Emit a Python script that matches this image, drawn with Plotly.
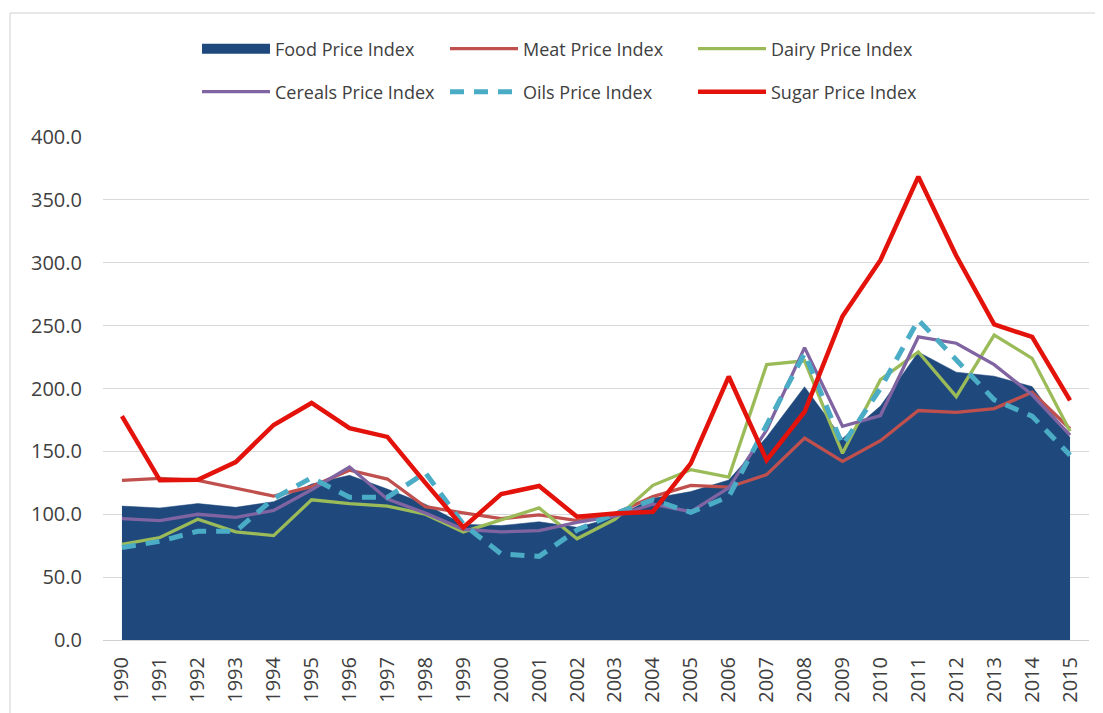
import plotly.graph_objects as go

years = [str(y) for y in range(1990, 2016)]

food = [106.5, 105.0, 108.5, 105.5, 110.0, 124.0, 131.0, 120.0, 108.0, 92.0, 91.0, 94.0, 89.6, 97.7, 112.7,
        118.0, 127.2, 161.4, 201.4, 160.3, 186.0, 229.0, 213.0, 209.8, 201.5, 161.0]
meat = [127.0, 128.5, 127.0, 120.5, 114.5, 122.0, 135.0, 128.0, 106.0, 101.0, 96.5, 99.5, 95.0, 100.5, 114.0,
        123.0, 121.5, 131.5, 160.5, 142.0, 158.5, 182.5, 181.0, 184.0, 197.0, 168.0]
dairy = [76.0, 81.5, 96.0, 86.0, 83.0, 111.5, 108.5, 106.5, 100.0, 86.0, 95.5, 105.0, 80.5, 96.0, 123.0,
         135.5, 129.5, 219.0, 222.0, 148.5, 207.0, 229.0, 193.5, 242.5, 224.0, 166.0]
cereals = [96.5, 95.0, 100.0, 97.5, 103.0, 119.5, 137.5, 112.0, 101.0, 88.0, 86.0, 87.0, 93.5, 98.5, 108.0,
           102.0, 121.0, 167.0, 232.5, 170.0, 178.5, 241.0, 236.0, 219.0, 195.0, 163.0]
oils = [73.5, 78.5, 86.5, 86.5, 112.5, 129.0, 113.5, 113.5, 133.0, 92.0, 68.5, 66.5, 87.5, 100.5, 111.5,
        101.5, 114.0, 172.0, 228.0, 155.0, 200.0, 254.5, 222.5, 191.0, 178.0, 147.0]
sugar = [178.0, 127.0, 127.5, 141.5, 171.0, 188.5, 168.5, 161.5, 125.0, 89.5, 116.0, 122.5, 98.0, 100.5, 102.0,
         140.5, 209.5, 143.0, 181.5, 257.5, 302.0, 368.5, 305.5, 251.0, 241.0, 190.5]

y_ticks = [0, 50, 100, 150, 200, 250, 300, 350, 400]

NAVY = "#1F497D"
MEAT_C = "#C0504D"
DAIRY_C = "#9BBB59"
CEREAL_C = "#8064A2"
OILS_C = "#4BACC6"
SUGAR_C = "#E3120B"
TXT = "#404040"
FONT = "Open Sans, DejaVu Sans, sans-serif"

fig = go.Figure()

# Food area (its legend entry is a proxy with a thick block symbol)
fig.add_trace(go.Scatter(x=years, y=food, mode="lines", fill="tozeroy", fillcolor=NAVY,
                         line=dict(color=NAVY, width=0.5), showlegend=False,
                         name="Food Price Index"))
fig.add_trace(go.Scatter(x=[None], y=[None], mode="lines", line=dict(color=NAVY, width=11),
                         name="Food Price Index", legend="legend"))
fig.add_trace(go.Scatter(x=years, y=meat, mode="lines", line=dict(color=MEAT_C, width=3.3),
                         name="Meat Price Index", legend="legend2"))
fig.add_trace(go.Scatter(x=years, y=dairy, mode="lines", line=dict(color=DAIRY_C, width=3.3),
                         name="Dairy Price Index", legend="legend3"))
fig.add_trace(go.Scatter(x=years, y=cereals, mode="lines", line=dict(color=CEREAL_C, width=3.3),
                         name="Cereals Price Index", legend="legend4"))
fig.add_trace(go.Scatter(x=years, y=oils, mode="lines", line=dict(color=OILS_C, width=5, dash="14px,10px"),
                         name="Oils Price Index", legend="legend5"))
fig.add_trace(go.Scatter(x=years, y=sugar, mode="lines", line=dict(color=SUGAR_C, width=4.5),
                         name="Sugar Price Index", legend="legend6"))

# The page body adds an 8px offset; layout is given in screen pixels and shifted.
OFF = 8
W, H = 1103, 713
SCR_L, SCR_R, SCR_T, SCR_B = 103, 1089, 137, 640
L = SCR_L - OFF
T = SCR_T - OFF
R = W - (SCR_R - OFF)
B = H - (SCR_B - OFF)
pw, ph = W - L - R, H - T - B


def px_x(p):
    return (p - OFF - L) / pw


def px_y(p):
    return (H - B - (p - OFF)) / ph


def leg(sym_x, ypix):
    return dict(x=px_x(sym_x - 5), y=px_y(ypix), xanchor="left", yanchor="middle",
                orientation="v", font=dict(family=FONT, size=18, color=TXT),
                itemwidth=68, bgcolor="rgba(0,0,0,0)", borderwidth=0,
                itemclick=False, itemdoubleclick=False)


ROW1, ROW2 = 49, 92
COLS = [202, 450, 698]

fig.update_layout(
    width=W, height=H,
    margin=dict(l=L, r=R, t=T, b=B, autoexpand=False),
    paper_bgcolor="white", plot_bgcolor="white",
    font=dict(family=FONT, color=TXT),
    legend=leg(COLS[0], ROW1),
    legend2=leg(COLS[1], ROW1),
    legend3=leg(COLS[2], ROW1),
    legend4=leg(COLS[0], ROW2),
    legend5=leg(COLS[1], ROW2),
    legend6=leg(COLS[2], ROW2),
    xaxis=dict(type="category", categoryorder="array", categoryarray=years,
               range=[-0.5, len(years) - 0.5], tickangle=-90, showgrid=False,
               showline=True, linecolor="#D0D0D0", linewidth=1, ticks="",
               ticklabelstandoff=8,
               tickfont=dict(family=FONT, size=20, color=TXT), fixedrange=True),
    yaxis=dict(range=[0, 400], tickvals=y_ticks, tickformat=".1f", showgrid=True,
               gridcolor="#D9D9D9", gridwidth=1, zeroline=False, showline=False,
               ticks="", ticklabelstandoff=20,
               tickfont=dict(family=FONT, size=20, color=TXT), fixedrange=True),
    shapes=[dict(type="rect", xref="paper", yref="paper",
                 x0=px_x(10), y0=px_y(760), x1=px_x(1140), y1=px_y(13),
                 line=dict(color="#D0D0D0", width=1), fillcolor="rgba(0,0,0,0)", layer="below")],
)

fig.write_html("out.html")
